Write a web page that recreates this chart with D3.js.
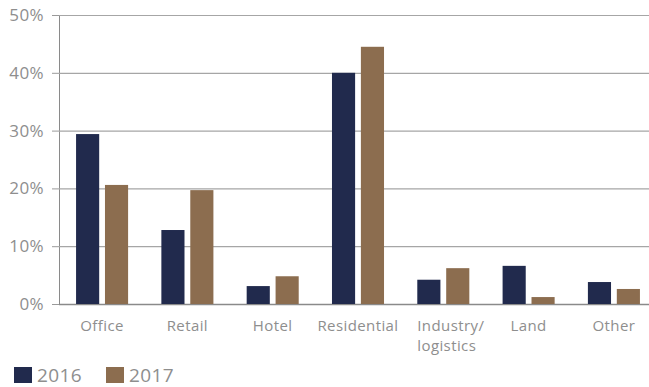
<!DOCTYPE html>
<html>
<head>
<meta charset="utf-8">
<script src="https://cdn.jsdelivr.net/npm/d3@7"></script>
<style>
  body { margin: 0; background: #fff; }
  text { font-family: "Open Sans", "Noto Sans", sans-serif; fill: #8e8e8e; letter-spacing: 0.4px; }
</style>
</head>
<body>
<div id="container"></div>
<script>
const categories = ['Office', 'Retail', 'Hotel', 'Residential', 'Industry/\nlogistics', 'Land', 'Other'];
const years = ['2016', '2017'];
const values2016 = [29.4, 12.8, 3.1, 40.0, 4.2, 6.6, 3.8];
const values2017 = [20.6, 19.7, 4.8, 44.5, 6.2, 1.2, 2.6];
const yTicks = [0, 10, 20, 30, 40, 50];
const colors = ['#212a4d', '#8c6d4f'];

const width = 649, height = 387;
const margin = {left: 59, right: 0, top: 15, bottom: 83};

const svg = d3.select('#container').append('svg')
    .attr('width', width)
    .attr('height', height);

// band range runs a bit past the frame so the groups land where the original put them
const x = d3.scaleBand(categories, [margin.left, 657])
    .paddingInner(0.39)
    .paddingOuter(0.2);
const xs = d3.scaleBand(years, [0, x.bandwidth()]).paddingInner(0.2);
const y = d3.scaleLinear([0, 50], [height - margin.bottom, margin.top]);

// gridlines + y labels
const yAxis = svg.append('g')
    .attr('transform', `translate(${margin.left},0)`)
    .call(d3.axisLeft(y).tickValues(yTicks).tickSize(7).tickPadding(8).tickFormat(d => d + '%'));
yAxis.select('.domain').attr('stroke', '#8a8a8a').attr('stroke-width', 1);
yAxis.selectAll('.tick line').attr('stroke', '#9a9a9a');
yAxis.selectAll('.tick text')
    .style('font-size', '17px')
    .attr('fill', '#8e8e8e');
yAxis.selectAll('.tick').append('line')
    .attr('x1', 0).attr('x2', width - margin.left)
    .attr('stroke', d => d === 0 ? '#8a8a8a' : '#a6a6a6')
    .attr('stroke-width', d => d === 0 ? 1.5 : 1.2);

const series = [values2016, values2017];
const groups = svg.append('g').selectAll('g')
    .data(categories)
    .join('g')
    .attr('transform', d => `translate(${x(d)},0)`);

groups.selectAll('rect')
    .data((c, i) => years.map((yr, j) => ({yr, v: series[j][i], j})))
    .join('rect')
    .attr('x', d => xs(d.yr))
    .attr('width', xs.bandwidth())
    .attr('y', d => y(d.v))
    .attr('height', d => y(0) - y(d.v))
    .attr('fill', d => colors[d.j]);

// category labels
const xl = svg.append('g');
categories.forEach(c => {
    const lines = c.split('\n');
    const t = xl.append('text')
        .attr('x', x(c) + x.bandwidth() / 2)
        .attr('y', 331)
        .attr('text-anchor', lines.length > 1 ? 'start' : 'middle')
        .style('font-size', '15px');
    if (lines.length > 1) t.attr('x', x(c) + xs('2016'));
    lines.forEach((l, i) => {
        t.append('tspan')
            .attr('x', t.attr('x'))
            .attr('dy', i === 0 ? 0 : 20)
            .text(l);
    });
});

// legend
const legend = svg.append('g').attr('transform', 'translate(14,367)');
years.forEach((yr, i) => {
    const g = legend.append('g').attr('transform', `translate(${i * 92},0)`);
    g.append('rect').attr('width', 18).attr('height', 16).attr('fill', colors[i]);
    g.append('text').attr('x', 23).attr('y', 14.5)
        .style('font-size', '19px')
        .attr('fill', '#8e8e8e')
        .text(yr);
});
</script>
</body>
</html>
